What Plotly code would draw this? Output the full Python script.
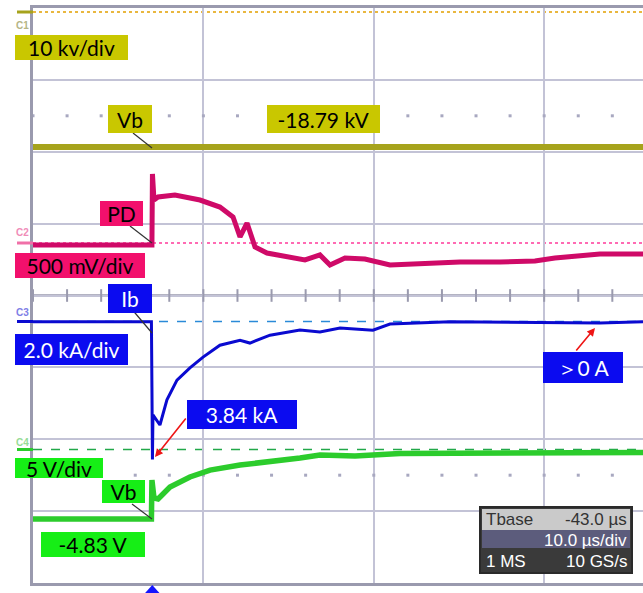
import plotly.graph_objects as go
import numpy as np

# ---------------- data ----------------
# time in microseconds from the left edge of the screen, 10 us/div
C1_T = [0.0, 35.8]
C1_KV = [-18.79, -18.79]                      # Vb, 10 kV/div

PD_T = [0.0, 6.98, 7.01, 7.10, 7.34, 8.33, 9.80, 10.97, 11.74, 12.15, 12.56,
        13.03, 13.73, 15.08, 15.96, 16.84, 17.43, 18.31, 19.48, 20.95, 22.71,
        25.06, 27.41, 29.46, 30.63, 31.81, 33.27, 35.80]
PD_MV = [-14, -14, 480, 299, 320, 334, 299, 250, 181, 42, 139,
         -28, -70, -97, -118, -83, -153, -104, -111, -153, -146,
         -132, -132, -125, -104, -90, -77, -77]   # PD, 500 mV/div

IB_T = [0.0, 6.95, 6.98, 7.01, 7.04, 7.16, 7.45, 7.86, 8.45, 9.21, 9.98,
        10.97, 12.15, 12.73, 13.91, 15.67, 16.84, 18.02, 19.95, 20.95,
        24.47, 33.27, 35.80]
IB_KA = [-0.01, -0.01, -1.82, -3.84, -2.60, -2.69, -2.88, -2.18, -1.63, -1.29, -0.99,
         -0.66, -0.52, -0.60, -0.38, -0.24, -0.29, -0.18, -0.24, -0.07,
         -0.01, -0.04, -0.01]                 # Ib, 2.0 kA/div

VB_T = [0.0, 6.95, 6.98, 7.10, 7.34, 8.04, 9.21, 10.39, 12.15, 13.91, 15.67,
        16.84, 18.9, 21.54, 27.41, 35.80]
VB_V = [-4.83, -4.83, -2.12, -3.37, -3.44, -2.61, -1.91, -1.43, -1.08, -0.87, -0.59,
        -0.38, -0.45, -0.28, -0.22, -0.20]    # Vb, 5 V/div

LABELS_C1 = ["10 kv/div", "Vb", "-18.79 kV"]
LABELS_C2 = ["PD", "500 mV/div"]
LABELS_C3 = ["Ib", "2.0 kA/div", "3.84 kA", "＞0 A"]
LABELS_C4 = ["5 V/div", "Vb", "-4.83 V"]
TBASE = ["Tbase", "-43.0 µs", "10.0 µs/div", "1 MS", "10 GS/s"]
T_TRIG = 7.0

# ---------------- layout constants ----------------
W, H = 643, 593
L, R, T, B = 33, 0, 8, 10
PW, PH = W - L - R, H - T - B
NDIV = 8
X_RANGE = [0, 35.8]

def px(x):
    return (x - L) / PW

def py(y):
    return (H - B - y) / PH

# channel: (scale per div, ground offset in divisions from bottom)
CH = {
    "y2": (10.0, (583 - 12) / 71.875),
    "y3": (500.0, (583 - 243) / 71.875),
    "y4": (2.0, (583 - 321.5) / 71.875),
    "y5": (5.0, (583 - 449.5) / 71.875),
}

YEL_BOX, YEL_TR = "#c9c700", "#a6a31c"
MAG_BOX, MAG_TR = "#f2106c", "#cf0a68"
BLU_BOX, BLU_TR = "#0b0bf0", "#0a0ad0"
GRN_BOX, GRN_TR = "#16ee16", "#2ccc2c"
GRID = "#c3c3d6"
AXC = "#9a9aae"

fig = go.Figure()

# decoration: center axis ticks and dotted rows
tick_x = np.arange(0, 36, 2.0)
fig.add_trace(go.Scatter(x=tick_x, y=[4] * len(tick_x), mode="markers",
                         marker=dict(symbol="line-ns-open", size=9, color=AXC,
                                     line=dict(color=AXC, width=2)),
                         hoverinfo="skip", showlegend=False))
for row in (6.5, 1.5):
    fig.add_trace(go.Scatter(x=tick_x, y=[row] * len(tick_x), mode="markers",
                             marker=dict(symbol="square", size=3, color="#a8a8c0"),
                             hoverinfo="skip", showlegend=False))

fig.add_trace(go.Scatter(x=C1_T, y=C1_KV, yaxis="y2", mode="lines",
                         line=dict(color=YEL_TR, width=6), showlegend=False))
fig.add_trace(go.Scatter(x=PD_T, y=PD_MV, yaxis="y3", mode="lines",
                         line=dict(color=MAG_TR, width=5), showlegend=False))
fig.add_trace(go.Scatter(x=IB_T, y=IB_KA, yaxis="y4", mode="lines",
                         line=dict(color=BLU_TR, width=3), showlegend=False))
fig.add_trace(go.Scatter(x=VB_T, y=VB_V, yaxis="y5", mode="lines",
                         line=dict(color=GRN_TR, width=5.5), showlegend=False))

layout_axes = {}
for key in ["y2", "y3", "y4", "y5"]:
    s, off = CH[key]
    layout_axes["yaxis%s" % key[1:]] = dict(
        overlaying="y", range=[-off * s, (NDIV - off) * s], visible=False,
        fixedrange=True)

fig.update_layout(
    width=W, height=H, margin=dict(l=L, r=R, t=T, b=B),
    paper_bgcolor="white", plot_bgcolor="white",
    xaxis=dict(range=X_RANGE, tick0=0, dtick=10, showticklabels=False,
               showgrid=True, gridcolor=GRID, gridwidth=2, zeroline=False,
               showline=True, linecolor=AXC, linewidth=3, mirror=True, ticks=""),
    yaxis=dict(range=[0, NDIV], dtick=1, showticklabels=False, showgrid=True,
               gridcolor=GRID, gridwidth=2, zeroline=False, showline=True,
               linecolor=AXC, linewidth=3, ticks=""),
    **layout_axes,
)

shapes = []
# center horizontal axis
shapes.append(dict(type="line", xref="paper", yref="y", x0=0, x1=1, y0=4, y1=4,
                   line=dict(color=AXC, width=2.5), layer="below"))
# ground reference lines and left markers
grounds = [("y2", "#e2a000", "dot"), ("y3", "#ff3a9a", "dot"),
           ("y4", "#2a8ad8", "dash"), ("y5", "#22a84a", "dash")]
mark_cols = [YEL_TR, "#f070a8", BLU_TR, GRN_TR]
for (ax, col, dash), mc in zip(grounds, mark_cols):
    shapes.append(dict(type="line", xref="paper", yref=ax, x0=0, x1=1, y0=0, y1=0,
                       line=dict(color=col, width=1.5, dash=dash), layer="below"))
    shapes.append(dict(type="line", xref="paper", yref=ax, x0=px(17), x1=px(33),
                       y0=0, y1=0, line=dict(color=mc, width=3)))

# leader lines from labels to traces
for (x0, y0, x1, y1) in [(133, 133, 152, 148), (130, 226, 152, 243),
                         (130, 307, 152, 333), (132, 504, 152, 519)]:
    shapes.append(dict(type="line", xref="paper", yref="paper",
                       x0=px(x0), y0=py(y0), x1=px(x1), y1=py(y1),
                       line=dict(color="#333333", width=1.2)))

# Tbase info box
shapes.append(dict(type="rect", xref="paper", yref="paper", x0=px(480), x1=px(632),
                   y0=py(573), y1=py(507), fillcolor="#3a3a3a",
                   line=dict(color="#2a2a2a", width=2)))
shapes.append(dict(type="rect", xref="paper", yref="paper", x0=px(482), x1=px(630),
                   y0=py(530), y1=py(509), fillcolor="#cacaca", line=dict(width=0)))
shapes.append(dict(type="rect", xref="paper", yref="paper", x0=px(482), x1=px(630),
                   y0=py(548), y1=py(530), fillcolor="#5c5c7c", line=dict(width=0)))

# trigger marker
tw = 0.42
shapes.append(dict(type="path", xref="x", yref="paper",
                   path="M %f,%f L %f,%f L %f,%f Z" % (T_TRIG - tw, py(593),
                                                      T_TRIG + tw, py(593),
                                                      T_TRIG, py(585)),
                   fillcolor="#1515ff", line=dict(width=0)))

fig.update_layout(shapes=shapes)

ann = []
FONT = "Lato, Noto Sans, sans-serif"

def box(text, x0, y0, x1, y1, bg, fg, size=21):
    ann.append(dict(text=text, xref="paper", yref="paper",
                    x=px((x0 + x1) / 2), y=py((y0 + y1) / 2),
                    xanchor="center", yanchor="middle",
                    width=x1 - x0, height=y1 - y0, bgcolor=bg, borderpad=0,
                    borderwidth=0, showarrow=False,
                    font=dict(family=FONT, size=size, color=fg)))

box(LABELS_C1[0], 15, 35, 128, 60, YEL_BOX, "black")
box(LABELS_C1[1], 108, 105, 152, 133, YEL_BOX, "black")
box(LABELS_C1[2], 267, 105, 380, 133, YEL_BOX, "black")
box(LABELS_C2[0], 100, 201, 143, 226, MAG_BOX, "black")
box(LABELS_C2[1], 15, 253, 145, 278, MAG_BOX, "black")
box(LABELS_C3[0], 108, 284, 152, 313, BLU_BOX, "white")
box(LABELS_C3[1], 15, 334, 128, 365, BLU_BOX, "white")
box(LABELS_C3[2], 187, 400, 297, 429, BLU_BOX, "white")
box(LABELS_C3[3], 543, 352, 623, 383, BLU_BOX, "white")
box(LABELS_C4[0], 15, 458, 103, 478, GRN_BOX, "black")
box(LABELS_C4[1], 102, 480, 145, 503, GRN_BOX, "black")
box(LABELS_C4[2], 41, 532, 145, 557, GRN_BOX, "black")

# channel names
for name, yc, col in [("C1", 26, "#b5b585"), ("C2", 233, "#f08cb8"),
                      ("C3", 312, "#7e7ee6"), ("C4", 442, "#96dc96")]:
    ann.append(dict(text="<b>%s</b>" % name, xref="paper", yref="paper",
                    x=px(22), y=py(yc), xanchor="center", yanchor="middle",
                    showarrow=False,
                    font=dict(family="Liberation Sans", size=10, color=col)))

# red arrows
for (hx, hy, tx, ty) in [(155, 457, 187, 417), (595, 328, 575, 352)]:
    ann.append(dict(text="", xref="paper", yref="paper", x=px(hx), y=py(hy),
                    ax=tx - hx, ay=ty - hy, showarrow=True, arrowhead=2,
                    arrowsize=1, arrowwidth=1.6, arrowcolor="#ee1515"))

# Tbase texts
TF = "Liberation Sans Narrow, Liberation Sans, Arial, sans-serif"
ann.append(dict(text=TBASE[0], xref="paper", yref="paper", x=px(484), y=py(519.5),
                xanchor="left", yanchor="middle", showarrow=False,
                font=dict(family=TF, size=17, color="#333333")))
ann.append(dict(text=TBASE[1], xref="paper", yref="paper", x=px(629), y=py(519.5),
                xanchor="right", yanchor="middle", showarrow=False,
                font=dict(family=TF, size=17, color="#333333")))
ann.append(dict(text=TBASE[2], xref="paper", yref="paper", x=px(629), y=py(540),
                xanchor="right", yanchor="middle", showarrow=False,
                font=dict(family=TF, size=17, color="white")))
ann.append(dict(text=TBASE[3], xref="paper", yref="paper", x=px(484), y=py(561),
                xanchor="left", yanchor="middle", showarrow=False,
                font=dict(family=TF, size=17, color="white")))
ann.append(dict(text=TBASE[4], xref="paper", yref="paper", x=px(629), y=py(561),
                xanchor="right", yanchor="middle", showarrow=False,
                font=dict(family=TF, size=17, color="white")))

fig.update_layout(annotations=ann)

fig.write_html("out.html", config={"displayModeBar": False},
               post_script="document.body.style.margin='0px';"
                           "document.body.style.padding='0px';")
